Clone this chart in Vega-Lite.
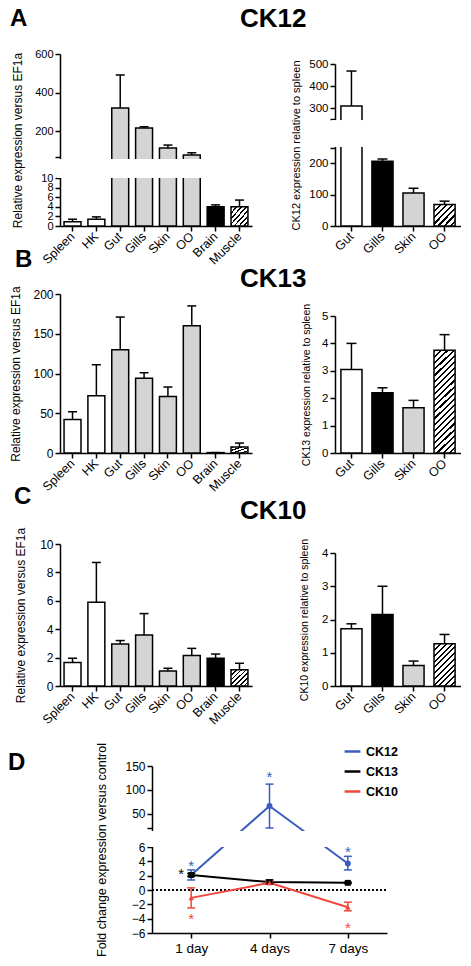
{
"$schema":"https://vega.github.io/schema/vega-lite/v6.json",
"padding":{"left":8,"top":6,"right":0,"bottom":0},
"background":"white",
"config":{"font":"Liberation Sans","view":{"stroke":null},
 "axis":{"domainColor":"black","tickColor":"black","labelColor":"black","titleColor":"black","domainWidth":1.5,"tickWidth":1.5,"tickSize":5,"grid":false,"titleFontWeight":"normal","labelFontSize":11,"titleFontSize":11,"labelOverlap":false,"labelFlush":false},
 "title":{"color":"black"},"legend":{"labelColor":"black"}},
"columns":2,
"align":"none",
"bounds":"flush",
"spacing":{"row":68,"column":-52},
"concat":[
 {"width":192,"height":175,
  "title":{"text":"A","anchor":"start","frame":"group","dx":-50,"fontSize":24,"fontWeight":"bold","offset":-2,"baseline":"alphabetic"},
  "data":{"values":[
   {"tissue":"Spleen","mean":0.9,"upper":1.4,"group":"white"},
   {"tissue":"HK","mean":1.4,"upper":1.9,"group":"white"},
   {"tissue":"Gut","mean":320,"upper":491,"group":"gray"},
   {"tissue":"Gills","mean":216,"upper":222,"group":"gray"},
   {"tissue":"Skin","mean":112,"upper":127,"group":"gray"},
   {"tissue":"OO","mean":75,"upper":87,"group":"gray"},
   {"tissue":"Brain","mean":4.0,"upper":4.4,"group":"black"},
   {"tissue":"Muscle","mean":4.0,"upper":5.4,"group":"hatch"}]},
  "encoding":{
   "x":{"field":"tissue","type":"nominal","scale":{"domain":["Spleen","HK","Gut","Gills","Skin","OO","Brain","Muscle"],"paddingInner":0.29,"paddingOuter":0.17},"axis":{"title":null,"labelAngle":-45,"labelAlign":"right","labelBaseline":"middle","labelFontSize":12.5,"labelPadding":3}},
   "y":{"field":"mean","type":"quantitative","scale":{"domain":[0,10,65,600],"range":[175,127,106,3],"nice":false,"zero":false},"axis":{"title":"Relative expression versus EF1a","values":[0,2,4,6,8,10,65,200,400,600],"labelExpr":"datum.value == 65 ? '' : datum.label","titleX":-36,"labelFontSize":11,"titleFontSize":12}}},
  "layer":[
   {"transform":[{"filter":"datum.group != 'hatch'"}],"mark":{"type":"bar","stroke":"black","strokeWidth":1.5},"encoding":{"fill":{"field":"group","type":"nominal","scale":{"domain":["white","gray","black"],"range":["#ffffff","#d4d4d4","#000000"]},"legend":null}}},
   {"transform":[{"filter":"datum.group == 'hatch'"}],"mark":{"type":"bar","stroke":"black","strokeWidth":1.5,"fill":{"gradient":"linear","x1":0,"y1":0,"x2":1,"y2":1,"stops":[{"offset":0,"color":"#000"},{"offset":0.05,"color":"#000"},{"offset":0.05,"color":"#fff"},{"offset":0.1429,"color":"#fff"},{"offset":0.1429,"color":"#000"},{"offset":0.1929,"color":"#000"},{"offset":0.1929,"color":"#fff"},{"offset":0.2857,"color":"#fff"},{"offset":0.2857,"color":"#000"},{"offset":0.3357,"color":"#000"},{"offset":0.3357,"color":"#fff"},{"offset":0.4286,"color":"#fff"},{"offset":0.4286,"color":"#000"},{"offset":0.4786,"color":"#000"},{"offset":0.4786,"color":"#fff"},{"offset":0.5714,"color":"#fff"},{"offset":0.5714,"color":"#000"},{"offset":0.6214,"color":"#000"},{"offset":0.6214,"color":"#fff"},{"offset":0.7143,"color":"#fff"},{"offset":0.7143,"color":"#000"},{"offset":0.7643,"color":"#000"},{"offset":0.7643,"color":"#fff"},{"offset":0.8571,"color":"#fff"},{"offset":0.8571,"color":"#000"},{"offset":0.9071,"color":"#000"},{"offset":0.9071,"color":"#fff"},{"offset":1,"color":"#fff"}]}}},
   {"mark":{"type":"rule","strokeWidth":1.5,"color":"black"},"encoding":{"y2":{"field":"upper"}}},
   {"mark":{"type":"tick","orient":"horizontal","size":9,"thickness":1.5,"color":"black","opacity":1},"encoding":{"y":{"field":"upper","type":"quantitative"}}},
   {"mark":{"type":"rect","color":"white"},"encoding":{"x":{"value":-3},"x2":{"value":"width"},"y":{"datum":10.3},"y2":{"datum":59}}}
  ]},
 {"width":126,"height":175,
  "title":{"text":"CK12","anchor":"start","frame":"group","dx":-95,"fontSize":26,"fontWeight":"bold","offset":-2,"baseline":"alphabetic"},
  "data":{"values":[
   {"tissue":"Gut","mean":309,"upper":468,"group":"white"},
   {"tissue":"Gills","mean":206,"upper":213,"group":"black"},
   {"tissue":"Skin","mean":105,"upper":120,"group":"gray"},
   {"tissue":"OO","mean":68,"upper":79,"group":"hatch"}]},
  "encoding":{
   "x":{"field":"tissue","type":"nominal","scale":{"domain":["Gut","Gills","Skin","OO"],"paddingInner":0.32,"paddingOuter":0.19},"axis":{"title":null,"labelAngle":-45,"labelAlign":"right","labelBaseline":"middle","labelFontSize":12.5,"labelPadding":3}},
   "y":{"field":"mean","type":"quantitative","scale":{"domain":[0,248,250,500],"range":[175,97,68,13],"nice":false,"zero":false},"axis":{"title":"CK12 expression relative to spleen","values":[0,100,200,248,250,300,400,500],"labelExpr":"datum.value == 248 || datum.value == 250 ? '' : datum.label","titleX":-34,"titleFontSize":11,"labelFontSize":11.5}}},
  "layer":[
   {"transform":[{"filter":"datum.group != 'hatch'"}],"mark":{"type":"bar","stroke":"black","strokeWidth":1.5},"encoding":{"fill":{"field":"group","type":"nominal","scale":{"domain":["white","gray","black"],"range":["#ffffff","#d0d0d0","#000000"]},"legend":null}}},
   {"transform":[{"filter":"datum.group == 'hatch'"}],"mark":{"type":"bar","stroke":"black","strokeWidth":1.5,"fill":{"gradient":"linear","x1":0,"y1":0,"x2":1,"y2":1,"stops":[{"offset":0,"color":"#000"},{"offset":0.05,"color":"#000"},{"offset":0.05,"color":"#fff"},{"offset":0.1429,"color":"#fff"},{"offset":0.1429,"color":"#000"},{"offset":0.1929,"color":"#000"},{"offset":0.1929,"color":"#fff"},{"offset":0.2857,"color":"#fff"},{"offset":0.2857,"color":"#000"},{"offset":0.3357,"color":"#000"},{"offset":0.3357,"color":"#fff"},{"offset":0.4286,"color":"#fff"},{"offset":0.4286,"color":"#000"},{"offset":0.4786,"color":"#000"},{"offset":0.4786,"color":"#fff"},{"offset":0.5714,"color":"#fff"},{"offset":0.5714,"color":"#000"},{"offset":0.6214,"color":"#000"},{"offset":0.6214,"color":"#fff"},{"offset":0.7143,"color":"#fff"},{"offset":0.7143,"color":"#000"},{"offset":0.7643,"color":"#000"},{"offset":0.7643,"color":"#fff"},{"offset":0.8571,"color":"#fff"},{"offset":0.8571,"color":"#000"},{"offset":0.9071,"color":"#000"},{"offset":0.9071,"color":"#fff"},{"offset":1,"color":"#fff"}]}}},
   {"mark":{"type":"rule","strokeWidth":1.5,"color":"black"},"encoding":{"y2":{"field":"upper"}}},
   {"mark":{"type":"tick","orient":"horizontal","size":10,"thickness":1.5,"color":"black","opacity":1},"encoding":{"y":{"field":"upper","type":"quantitative"}}},
   {"mark":{"type":"rect","color":"white"},"encoding":{"x":{"value":-3},"x2":{"value":"width"},"y":{"datum":248.1},"y2":{"datum":249.9}}}
  ]},
 {"width":192,"height":159,
  "title":{"text":"B","anchor":"start","frame":"group","dx":-45,"fontSize":24,"fontWeight":"bold","offset":-5,"baseline":"alphabetic"},
  "data":{"values":[
   {"tissue":"Spleen","mean":42,"upper":52,"group":"white"},
   {"tissue":"HK","mean":72,"upper":111,"group":"white"},
   {"tissue":"Gut","mean":130,"upper":171,"group":"gray"},
   {"tissue":"Gills","mean":94,"upper":101,"group":"gray"},
   {"tissue":"Skin","mean":71,"upper":83,"group":"gray"},
   {"tissue":"OO","mean":160,"upper":185,"group":"gray"},
   {"tissue":"Brain","mean":0.5,"upper":0.5,"group":"black"},
   {"tissue":"Muscle","mean":7.5,"upper":12.5,"group":"hatch"}]},
  "encoding":{
   "x":{"field":"tissue","type":"nominal","scale":{"domain":["Spleen","HK","Gut","Gills","Skin","OO","Brain","Muscle"],"paddingInner":0.29,"paddingOuter":0.17},"axis":{"title":null,"labelAngle":-45,"labelAlign":"right","labelBaseline":"middle","labelFontSize":12.5,"labelPadding":3}},
   "y":{"field":"mean","type":"quantitative","scale":{"domain":[0,200],"nice":false},"axis":{"title":"Relative expression versus EF1a","values":[0,50,100,150,200],"titleX":-38,"labelFontSize":12,"titleFontSize":12}}},
  "layer":[
   {"transform":[{"filter":"datum.group != 'hatch'"}],"mark":{"type":"bar","stroke":"black","strokeWidth":1.5},"encoding":{"fill":{"field":"group","type":"nominal","scale":{"domain":["white","gray","black"],"range":["#ffffff","#bfbfbf","#000000"]},"legend":null}}},
   {"transform":[{"filter":"datum.group == 'hatch'"}],"mark":{"type":"bar","stroke":"black","strokeWidth":1.5,"fill":{"gradient":"linear","x1":0,"y1":0,"x2":1,"y2":1,"stops":[{"offset":0,"color":"#000"},{"offset":0.1,"color":"#000"},{"offset":0.1,"color":"#fff"},{"offset":0.25,"color":"#fff"},{"offset":0.25,"color":"#000"},{"offset":0.35,"color":"#000"},{"offset":0.35,"color":"#fff"},{"offset":0.5,"color":"#fff"},{"offset":0.5,"color":"#000"},{"offset":0.6,"color":"#000"},{"offset":0.6,"color":"#fff"},{"offset":0.75,"color":"#fff"},{"offset":0.75,"color":"#000"},{"offset":0.85,"color":"#000"},{"offset":0.85,"color":"#fff"},{"offset":1,"color":"#fff"}]}}},
   {"mark":{"type":"rule","strokeWidth":1.5,"color":"black"},"encoding":{"y2":{"field":"upper"}}},
   {"mark":{"type":"tick","orient":"horizontal","size":9,"thickness":1.5,"color":"black","opacity":1},"encoding":{"y":{"field":"upper","type":"quantitative"}}}
  ]},
 {"width":126,"height":159,
  "title":{"text":"CK13","anchor":"start","frame":"group","dx":-95,"fontSize":26,"fontWeight":"bold","offset":-19,"baseline":"alphabetic"},
  "data":{"values":[
   {"tissue":"Gut","mean":3.05,"upper":4.0,"group":"white"},
   {"tissue":"Gills","mean":2.2,"upper":2.38,"group":"black"},
   {"tissue":"Skin","mean":1.65,"upper":1.92,"group":"gray"},
   {"tissue":"OO","mean":3.75,"upper":4.32,"group":"hatch"}]},
  "encoding":{
   "x":{"field":"tissue","type":"nominal","scale":{"domain":["Gut","Gills","Skin","OO"],"paddingInner":0.32,"paddingOuter":0.19},"axis":{"title":null,"labelAngle":-45,"labelAlign":"right","labelBaseline":"middle","labelFontSize":12.5,"labelPadding":3}},
   "y":{"field":"mean","type":"quantitative","scale":{"domain":[0,5],"range":[159,22],"nice":false,"zero":false},"axis":{"title":"CK13 expression relative to spleen","values":[0,1,2,3,4,5],"format":"d","titleX":-24,"titleFontSize":10.5,"labelFontSize":11.5}}},
  "layer":[
   {"transform":[{"filter":"datum.group != 'hatch'"}],"mark":{"type":"bar","stroke":"black","strokeWidth":1.5},"encoding":{"fill":{"field":"group","type":"nominal","scale":{"domain":["white","gray","black"],"range":["#ffffff","#cccccc","#000000"]},"legend":null}}},
   {"transform":[{"filter":"datum.group == 'hatch'"}],"mark":{"type":"bar","stroke":"black","strokeWidth":1.5,"fill":{"gradient":"linear","x1":0,"y1":0,"x2":0.23,"y2":1.15,"stops":[{"offset":0,"color":"#000"},{"offset":0.0175,"color":"#000"},{"offset":0.0175,"color":"#fff"},{"offset":0.05,"color":"#fff"},{"offset":0.05,"color":"#000"},{"offset":0.0675,"color":"#000"},{"offset":0.0675,"color":"#fff"},{"offset":0.1,"color":"#fff"},{"offset":0.1,"color":"#000"},{"offset":0.1175,"color":"#000"},{"offset":0.1175,"color":"#fff"},{"offset":0.15,"color":"#fff"},{"offset":0.15,"color":"#000"},{"offset":0.1675,"color":"#000"},{"offset":0.1675,"color":"#fff"},{"offset":0.2,"color":"#fff"},{"offset":0.2,"color":"#000"},{"offset":0.2175,"color":"#000"},{"offset":0.2175,"color":"#fff"},{"offset":0.25,"color":"#fff"},{"offset":0.25,"color":"#000"},{"offset":0.2675,"color":"#000"},{"offset":0.2675,"color":"#fff"},{"offset":0.3,"color":"#fff"},{"offset":0.3,"color":"#000"},{"offset":0.3175,"color":"#000"},{"offset":0.3175,"color":"#fff"},{"offset":0.35,"color":"#fff"},{"offset":0.35,"color":"#000"},{"offset":0.3675,"color":"#000"},{"offset":0.3675,"color":"#fff"},{"offset":0.4,"color":"#fff"},{"offset":0.4,"color":"#000"},{"offset":0.4175,"color":"#000"},{"offset":0.4175,"color":"#fff"},{"offset":0.45,"color":"#fff"},{"offset":0.45,"color":"#000"},{"offset":0.4675,"color":"#000"},{"offset":0.4675,"color":"#fff"},{"offset":0.5,"color":"#fff"},{"offset":0.5,"color":"#000"},{"offset":0.5175,"color":"#000"},{"offset":0.5175,"color":"#fff"},{"offset":0.55,"color":"#fff"},{"offset":0.55,"color":"#000"},{"offset":0.5675,"color":"#000"},{"offset":0.5675,"color":"#fff"},{"offset":0.6,"color":"#fff"},{"offset":0.6,"color":"#000"},{"offset":0.6175,"color":"#000"},{"offset":0.6175,"color":"#fff"},{"offset":0.65,"color":"#fff"},{"offset":0.65,"color":"#000"},{"offset":0.6675,"color":"#000"},{"offset":0.6675,"color":"#fff"},{"offset":0.7,"color":"#fff"},{"offset":0.7,"color":"#000"},{"offset":0.7175,"color":"#000"},{"offset":0.7175,"color":"#fff"},{"offset":0.75,"color":"#fff"},{"offset":0.75,"color":"#000"},{"offset":0.7675,"color":"#000"},{"offset":0.7675,"color":"#fff"},{"offset":0.8,"color":"#fff"},{"offset":0.8,"color":"#000"},{"offset":0.8175,"color":"#000"},{"offset":0.8175,"color":"#fff"},{"offset":0.85,"color":"#fff"},{"offset":0.85,"color":"#000"},{"offset":0.8675,"color":"#000"},{"offset":0.8675,"color":"#fff"},{"offset":0.9,"color":"#fff"},{"offset":0.9,"color":"#000"},{"offset":0.9175,"color":"#000"},{"offset":0.9175,"color":"#fff"},{"offset":0.95,"color":"#fff"},{"offset":0.95,"color":"#000"},{"offset":0.9675,"color":"#000"},{"offset":0.9675,"color":"#fff"},{"offset":1,"color":"#fff"}]}}},
   {"mark":{"type":"rule","strokeWidth":1.5,"color":"black"},"encoding":{"y2":{"field":"upper"}}},
   {"mark":{"type":"tick","orient":"horizontal","size":10,"thickness":1.5,"color":"black","opacity":1},"encoding":{"y":{"field":"upper","type":"quantitative"}}}
  ]},
 {"width":192,"height":165,
  "title":{"text":"C","anchor":"start","frame":"group","dx":-46,"fontSize":24,"fontWeight":"bold","offset":-7,"baseline":"alphabetic"},
  "data":{"values":[
   {"tissue":"Spleen","mean":1.65,"upper":1.95,"group":"white"},
   {"tissue":"HK","mean":5.9,"upper":8.7,"group":"white"},
   {"tissue":"Gut","mean":2.95,"upper":3.2,"group":"gray"},
   {"tissue":"Gills","mean":3.6,"upper":5.1,"group":"gray"},
   {"tissue":"Skin","mean":1.05,"upper":1.25,"group":"gray"},
   {"tissue":"OO","mean":2.15,"upper":2.65,"group":"gray"},
   {"tissue":"Brain","mean":1.95,"upper":2.25,"group":"black"},
   {"tissue":"Muscle","mean":1.15,"upper":1.6,"group":"hatch"}]},
  "encoding":{
   "x":{"field":"tissue","type":"nominal","scale":{"domain":["Spleen","HK","Gut","Gills","Skin","OO","Brain","Muscle"],"paddingInner":0.29,"paddingOuter":0.17},"axis":{"title":null,"labelAngle":-45,"labelAlign":"right","labelBaseline":"middle","labelFontSize":12.5,"labelPadding":3}},
   "y":{"field":"mean","type":"quantitative","scale":{"domain":[0,10],"range":[165,23],"nice":false,"zero":false},"axis":{"title":"Relative expression versus EF1a","values":[0,2,4,6,8,10],"format":"d","titleX":-33,"labelFontSize":12,"titleFontSize":12}}},
  "layer":[
   {"transform":[{"filter":"datum.group != 'hatch'"}],"mark":{"type":"bar","stroke":"black","strokeWidth":1.5},"encoding":{"fill":{"field":"group","type":"nominal","scale":{"domain":["white","gray","black"],"range":["#ffffff","#bdbdbd","#000000"]},"legend":null}}},
   {"transform":[{"filter":"datum.group == 'hatch'"}],"mark":{"type":"bar","stroke":"black","strokeWidth":1.5,"fill":{"gradient":"linear","x1":0,"y1":0,"x2":1,"y2":1,"stops":[{"offset":0,"color":"#000"},{"offset":0.05,"color":"#000"},{"offset":0.05,"color":"#fff"},{"offset":0.1429,"color":"#fff"},{"offset":0.1429,"color":"#000"},{"offset":0.1929,"color":"#000"},{"offset":0.1929,"color":"#fff"},{"offset":0.2857,"color":"#fff"},{"offset":0.2857,"color":"#000"},{"offset":0.3357,"color":"#000"},{"offset":0.3357,"color":"#fff"},{"offset":0.4286,"color":"#fff"},{"offset":0.4286,"color":"#000"},{"offset":0.4786,"color":"#000"},{"offset":0.4786,"color":"#fff"},{"offset":0.5714,"color":"#fff"},{"offset":0.5714,"color":"#000"},{"offset":0.6214,"color":"#000"},{"offset":0.6214,"color":"#fff"},{"offset":0.7143,"color":"#fff"},{"offset":0.7143,"color":"#000"},{"offset":0.7643,"color":"#000"},{"offset":0.7643,"color":"#fff"},{"offset":0.8571,"color":"#fff"},{"offset":0.8571,"color":"#000"},{"offset":0.9071,"color":"#000"},{"offset":0.9071,"color":"#fff"},{"offset":1,"color":"#fff"}]}}},
   {"mark":{"type":"rule","strokeWidth":1.5,"color":"black"},"encoding":{"y2":{"field":"upper"}}},
   {"mark":{"type":"tick","orient":"horizontal","size":9,"thickness":1.5,"color":"black","opacity":1},"encoding":{"y":{"field":"upper","type":"quantitative"}}}
  ]},
 {"width":126,"height":165,
  "title":{"text":"CK10","anchor":"start","frame":"group","dx":-95,"fontSize":26,"fontWeight":"bold","offset":-24,"baseline":"alphabetic"},
  "data":{"values":[
   {"tissue":"Gut","mean":1.72,"upper":1.87,"group":"white"},
   {"tissue":"Gills","mean":2.15,"upper":3.0,"group":"black"},
   {"tissue":"Skin","mean":0.62,"upper":0.75,"group":"gray"},
   {"tissue":"OO","mean":1.27,"upper":1.55,"group":"hatch"}]},
  "encoding":{
   "x":{"field":"tissue","type":"nominal","scale":{"domain":["Gut","Gills","Skin","OO"],"paddingInner":0.32,"paddingOuter":0.19},"axis":{"title":null,"labelAngle":-45,"labelAlign":"right","labelBaseline":"middle","labelFontSize":12.5,"labelPadding":3}},
   "y":{"field":"mean","type":"quantitative","scale":{"domain":[0,4],"range":[165,32],"nice":false,"zero":false},"axis":{"title":"CK10 expression relative to spleen","values":[0,1,2,3,4],"format":"d","titleX":-26,"titleFontSize":10.5,"labelFontSize":11.5}}},
  "layer":[
   {"transform":[{"filter":"datum.group != 'hatch'"}],"mark":{"type":"bar","stroke":"black","strokeWidth":1.5},"encoding":{"fill":{"field":"group","type":"nominal","scale":{"domain":["white","gray","black"],"range":["#ffffff","#cccccc","#000000"]},"legend":null}}},
   {"transform":[{"filter":"datum.group == 'hatch'"}],"mark":{"type":"bar","stroke":"black","strokeWidth":1.5,"fill":{"gradient":"linear","x1":0,"y1":0,"x2":0.6,"y2":1.2,"stops":[{"offset":0,"color":"#000"},{"offset":0.0318,"color":"#000"},{"offset":0.0318,"color":"#fff"},{"offset":0.0909,"color":"#fff"},{"offset":0.0909,"color":"#000"},{"offset":0.1227,"color":"#000"},{"offset":0.1227,"color":"#fff"},{"offset":0.1818,"color":"#fff"},{"offset":0.1818,"color":"#000"},{"offset":0.2136,"color":"#000"},{"offset":0.2136,"color":"#fff"},{"offset":0.2727,"color":"#fff"},{"offset":0.2727,"color":"#000"},{"offset":0.3045,"color":"#000"},{"offset":0.3045,"color":"#fff"},{"offset":0.3636,"color":"#fff"},{"offset":0.3636,"color":"#000"},{"offset":0.3955,"color":"#000"},{"offset":0.3955,"color":"#fff"},{"offset":0.4545,"color":"#fff"},{"offset":0.4545,"color":"#000"},{"offset":0.4864,"color":"#000"},{"offset":0.4864,"color":"#fff"},{"offset":0.5455,"color":"#fff"},{"offset":0.5455,"color":"#000"},{"offset":0.5773,"color":"#000"},{"offset":0.5773,"color":"#fff"},{"offset":0.6364,"color":"#fff"},{"offset":0.6364,"color":"#000"},{"offset":0.6682,"color":"#000"},{"offset":0.6682,"color":"#fff"},{"offset":0.7273,"color":"#fff"},{"offset":0.7273,"color":"#000"},{"offset":0.7591,"color":"#000"},{"offset":0.7591,"color":"#fff"},{"offset":0.8182,"color":"#fff"},{"offset":0.8182,"color":"#000"},{"offset":0.85,"color":"#000"},{"offset":0.85,"color":"#fff"},{"offset":0.9091,"color":"#fff"},{"offset":0.9091,"color":"#000"},{"offset":0.9409,"color":"#000"},{"offset":0.9409,"color":"#fff"},{"offset":1,"color":"#fff"}]}}},
   {"mark":{"type":"rule","strokeWidth":1.5,"color":"black"},"encoding":{"y2":{"field":"upper"}}},
   {"mark":{"type":"tick","orient":"horizontal","size":10,"thickness":1.5,"color":"black","opacity":1},"encoding":{"y":{"field":"upper","type":"quantitative"}}}
  ]},
 {"width":327,"height":179,
  "title":{"text":"D","anchor":"start","frame":"group","dx":-52,"dy":20,"fontSize":24,"fontWeight":"bold","offset":-32,"baseline":"alphabetic"},
  "data":{"values":[
   {"gene":"CK12","day":1,"mean":2.1,"lo":1.4,"hi":2.8},
   {"gene":"CK12","day":4,"mean":66,"lo":20,"hi":112},
   {"gene":"CK12","day":7,"mean":3.7,"lo":2.8,"hi":4.7},
   {"gene":"CK13","day":1,"mean":2.1,"lo":1.9,"hi":2.3},
   {"gene":"CK13","day":4,"mean":1.1,"lo":0.8,"hi":1.4},
   {"gene":"CK13","day":7,"mean":1.0,"lo":0.9,"hi":1.1},
   {"gene":"CK10","day":1,"mean":-1.1,"lo":-2.5,"hi":0.3},
   {"gene":"CK10","day":4,"mean":1.0,"lo":0.8,"hi":1.2},
   {"gene":"CK10","day":7,"mean":-2.4,"lo":-2.9,"hi":-1.7}]},
  "layer":[
   {"mark":{"type":"rule","strokeDash":[2,2],"strokeWidth":1,"color":"black"},"encoding":{
     "x":{"datum":-0.5,"type":"quantitative","scale":{"domain":[-0.5,8.5],"range":[92,327],"nice":false,"zero":false},"axis":{"title":null,"values":[1,4,7],"tickCount":20,"labelExpr":"datum.value == 1 ? '1 day' : datum.value + ' days'","labelFontSize":13.5,"labelPadding":3}},
     "x2":{"datum":8.5},
     "y":{"datum":0,"type":"quantitative","scale":{"domain":[-6,6,20,150],"range":[179,93,74,12],"nice":false,"zero":false},"axis":{"title":"Fold change expression versus control","values":[-6,-4,-2,0,2,4,6,20,50,100,150],"tickCount":20,"format":"d","labelExpr":"datum.value == 20 ? '' : datum.label","labelFontSize":12,"titleFontSize":12.5,"titleX":-44,"offset":-92}}}},
   {"mark":{"type":"line","strokeWidth":2},"encoding":{
     "x":{"field":"day","type":"quantitative","axis":{"tickCount":20}},
     "y":{"field":"mean","type":"quantitative","axis":{"tickCount":20}},
     "color":{"field":"gene","type":"nominal","scale":{"domain":["CK12","CK13","CK10"],"range":["#3a5cbf","#000000","#f0463c"]},"legend":{"orient":"none","legendX":283,"legendY":691,"title":null,"labelFontSize":12.5,"labelFontWeight":"bold","symbolType":"stroke","symbolStrokeWidth":2.5,"symbolSize":250,"rowPadding":4}}}},
   {"mark":{"type":"rule","strokeWidth":1.5},"encoding":{"x":{"field":"day","type":"quantitative"},"y":{"field":"lo","type":"quantitative"},"y2":{"field":"hi"},"color":{"field":"gene","type":"nominal","legend":null}}},
   {"mark":{"type":"tick","orient":"horizontal","size":8,"thickness":1.5,"opacity":1},"encoding":{"x":{"field":"day","type":"quantitative"},"y":{"field":"lo","type":"quantitative"},"color":{"field":"gene","type":"nominal","legend":null}}},
   {"mark":{"type":"tick","orient":"horizontal","size":8,"thickness":1.5,"opacity":1},"encoding":{"x":{"field":"day","type":"quantitative"},"y":{"field":"hi","type":"quantitative"},"color":{"field":"gene","type":"nominal","legend":null}}},
   {"transform":[{"filter":"datum.gene == 'CK12'"}],"mark":{"type":"point","filled":true,"size":35,"opacity":1,"shape":"circle"},"encoding":{"x":{"field":"day","type":"quantitative"},"y":{"field":"mean","type":"quantitative"},"color":{"field":"gene","type":"nominal","legend":null}}},
   {"transform":[{"filter":"datum.gene == 'CK13'"}],"mark":{"type":"point","filled":true,"size":35,"opacity":1,"shape":"square"},"encoding":{"x":{"field":"day","type":"quantitative"},"y":{"field":"mean","type":"quantitative"},"color":{"field":"gene","type":"nominal","legend":null}}},
   {"transform":[{"filter":"datum.gene == 'CK10'"}],"mark":{"type":"point","filled":true,"size":30,"opacity":1,"shape":"triangle-up"},"encoding":{"x":{"field":"day","type":"quantitative"},"y":{"field":"mean","type":"quantitative"},"color":{"field":"gene","type":"nominal","legend":null}}},
   {"mark":{"type":"rect","color":"white"},"encoding":{"x":{"datum":-0.62,"type":"quantitative"},"x2":{"datum":8.5},"y":{"datum":6.2,"type":"quantitative"},"y2":{"datum":17.5}}},
   {"data":{"values":[
     {"gene":"CK12","day":1,"v":3.9},
     {"gene":"CK12","day":4,"v":135},
     {"gene":"CK12","day":7,"v":5.9},
     {"gene":"CK10","day":1,"v":-3.5},
     {"gene":"CK10","day":7,"v":-4.7}]},
    "mark":{"type":"text","fontSize":15,"baseline":"middle","dy":4},"encoding":{"x":{"field":"day","type":"quantitative"},"y":{"field":"v","type":"quantitative"},"text":{"value":"*"},"color":{"field":"gene","type":"nominal","legend":null}}},
   {"data":{"values":[{"gene":"CK13","day":1,"v":2.8}]},
    "mark":{"type":"text","fontSize":15,"baseline":"middle","dy":4,"dx":-10},"encoding":{"x":{"field":"day","type":"quantitative"},"y":{"field":"v","type":"quantitative"},"text":{"value":"*"},"color":{"field":"gene","type":"nominal","legend":null}}}
  ]}
]
}
